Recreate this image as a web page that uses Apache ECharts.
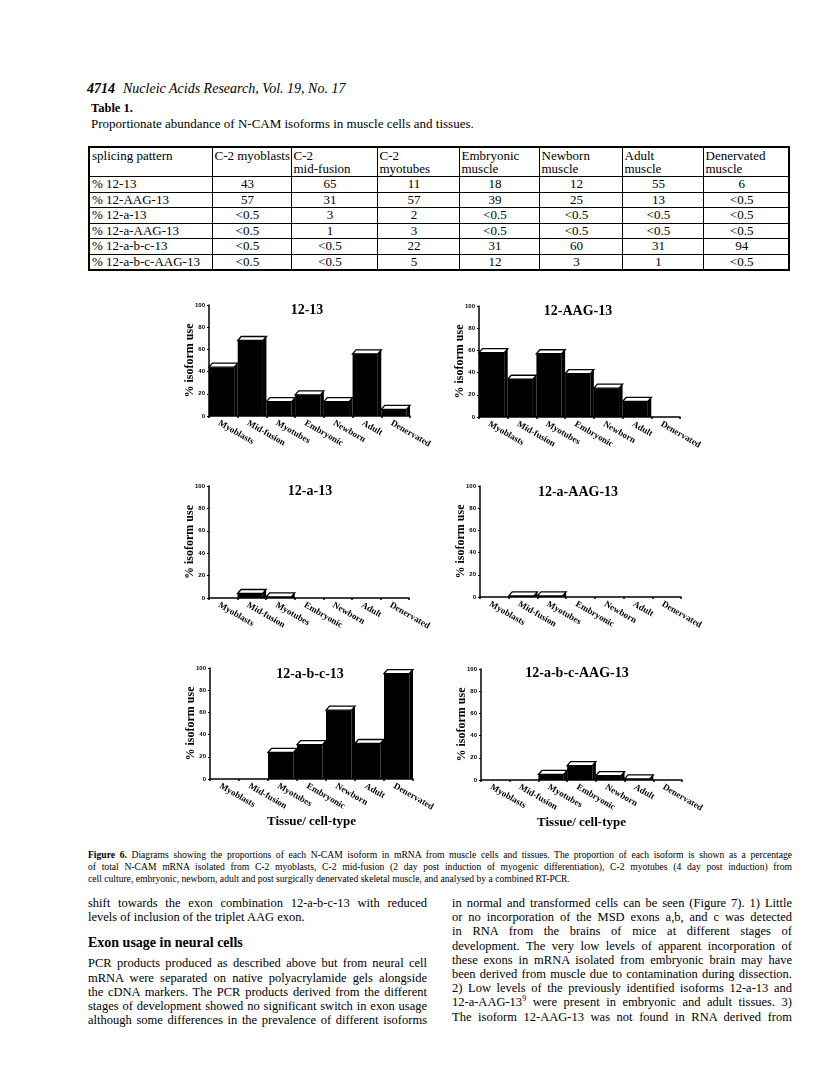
<!DOCTYPE html>
<html>
<head>
<meta charset="utf-8">
<script src="https://cdn.jsdelivr.net/npm/echarts@6/dist/echarts.min.js"></script>
<style>
  html, body { margin: 0; padding: 0; background: #fff; }
  body { width: 816px; height: 1090px; position: relative; overflow: hidden; color: #000; font-family: "Liberation Serif", "DejaVu Serif", serif; }
  .abs { position: absolute; white-space: nowrap; }
  #runhead { left: 87px; top: 81px; font-size: 14px; font-style: italic; }
  #runhead b { font-weight: bold; margin-right: 8px; }
  #tlabel { left: 91px; top: 101px; font-size: 12.5px; font-weight: bold; }
  #tcap { left: 91px; top: 116px; font-size: 13px; }
  #tbl { position: absolute; left: 88px; top: 146px; width: 700px; border-collapse: collapse; font-size: 13px; line-height: 13px; border: 2px solid #000; table-layout: fixed; }
  #tbl td { border: 1.5px solid #000; padding: 0 2px; vertical-align: top; white-space: nowrap; }
  #tbl tr.hd td { height: 27px; padding-top: 1px; }
  #tbl tr.dr td { height: 14.5px; line-height: 14.5px; text-align: center; padding-right: 10px; }
  #tbl tr.dr td:first-child { text-align: left; padding-right: 2px; }
  #chart { position: absolute; left: 0; top: 280px; width: 816px; height: 560px; }
  .cap { position: absolute; left: 88px; width: 704px; font-size: 9.6px; text-align: justify; text-align-last: justify; white-space: nowrap; }
  .cap.last { text-align-last: left; }
  .col { position: absolute; font-size: 12.5px; line-height: 14.2px; }
  .col div { text-align: justify; text-align-last: justify; white-space: nowrap; height: 14.2px; }
  .col div.end { text-align-last: left; }
  .col div.h { font-weight: bold; font-size: 14px; text-align-last: left; height: 18px; margin-top: 12px; margin-bottom: 2px;}
</style>
</head>
<body>
<div id="runhead" class="abs"><b>4714</b>Nucleic Acids Research, Vol. 19, No. 17</div>
<div id="tlabel" class="abs">Table 1.</div>
<div id="tcap" class="abs">Proportionate abundance of N-CAM isoforms in muscle cells and tissues.</div>
<table id="tbl"></table>
<div id="chart"></div>

<div class="cap" style="top:849px;"><b>Figure 6.</b> Diagrams showing the proportions of each N-CAM isoform in mRNA from muscle cells and tissues. The proportion of each isoform is shown as a percentage</div>
<div class="cap" style="top:861px;">of total N-CAM mRNA isolated from C-2 myoblasts, C-2 mid-fusion (2 day post induction of myogenic differentiation), C-2 myotubes (4 day post induction) from</div>
<div class="cap last" style="top:873px;">cell culture, embryonic, newborn, adult and post surgically denervated skeletal muscle, and analysed by a combined RT-PCR.</div>

<div class="col" style="left:88px; top:896px; width:339px;">
  <div>shift towards the exon combination 12-a-b-c-13 with reduced</div>
  <div class="end">levels of inclusion of the triplet AAG exon.</div>
  <div class="h">Exon usage in neural cells</div>
  <div>PCR products produced as described above but from neural cell</div>
  <div>mRNA were separated on native polyacrylamide gels alongside</div>
  <div>the cDNA markers. The PCR products derived from the different</div>
  <div>stages of development showed no significant switch in exon usage</div>
  <div>although some differences in the prevalence of different isoforms</div>
</div>
<div class="col" style="left:452px; top:896px; width:340px;">
  <div>in normal and transformed cells can be seen (Figure 7). 1) Little</div>
  <div>or no incorporation of the MSD exons a,b, and c was detected</div>
  <div>in RNA from the brains of mice at different stages of</div>
  <div>development. The very low levels of apparent incorporation of</div>
  <div>these exons in mRNA isolated from embryonic brain may have</div>
  <div>been derived from muscle due to contamination during dissection.</div>
  <div>2) Low levels of the previously identified isoforms 12-a-13 and</div>
  <div>12-a-AAG-13<sup style="font-size:8px;line-height:0;">9</sup> were present in embryonic and adult tissues. 3)</div>
  <div>The isoform 12-AAG-13 was not found in RNA derived from</div>
</div>

<script>
// ---------- Table data ----------
const tableHeaders = ['splicing pattern', 'C-2 myoblasts', 'C-2<br>mid-fusion', 'C-2<br>myotubes', 'Embryonic<br>muscle', 'Newborn<br>muscle', 'Adult<br>muscle', 'Denervated<br>muscle'];
const tableColWidths = [123, 79, 86, 82, 80, 83, 81, 86];
const rowLabels = ['% 12-13', '% 12-AAG-13', '% 12-a-13', '% 12-a-AAG-13', '% 12-a-b-c-13', '% 12-a-b-c-AAG-13'];
const row_12_13 = ['43', '65', '11', '18', '12', '55', '6'];
const row_12_AAG_13 = ['57', '31', '57', '39', '25', '13', '<0.5'];
const row_12_a_13 = ['<0.5', '3', '2', '<0.5', '<0.5', '<0.5', '<0.5'];
const row_12_a_AAG_13 = ['<0.5', '1', '3', '<0.5', '<0.5', '<0.5', '<0.5'];
const row_12_abc_13 = ['<0.5', '<0.5', '22', '31', '60', '31', '94'];
const row_12_abc_AAG_13 = ['<0.5', '<0.5', '5', '12', '3', '1', '<0.5'];

// ---------- Chart data ----------
const categories = ['Myoblasts', 'Mid-fusion', 'Myotubes', 'Embryonic', 'Newborn', 'Adult', 'Denervated'];
const chartTitles = ['12-13', '12-AAG-13', '12-a-13', '12-a-AAG-13', '12-a-b-c-13', '12-a-b-c-AAG-13'];
const yTickValues = [0, 20, 40, 60, 80, 100];
const use_12_13 = [44, 68, 13, 19, 13, 56, 6];
const use_12_AAG_13 = [58, 34, 57, 39, 26, 14, null];
const use_12_a_13 = [null, 4, 1, null, null, null, null];
const use_12_a_AAG_13 = [null, 1, 1, null, null, null, null];
const use_12_abc_13 = [null, null, 24, 31, 62, 32, 95];
const use_12_abc_AAG_13 = [null, null, 5, 13, 4, 1, null];
const yAxisName = '% isoform use';
const xAxisName = 'Tissue/ cell-type';

// build table
(function () {
  const t = document.getElementById('tbl');
  let html = '<colgroup>' + tableColWidths.map(w => '<col style="width:' + w + 'px">').join('') + '</colgroup>';
  html += '<tr class="hd">' + tableHeaders.map(h => '<td>' + h + '</td>').join('') + '</tr>';
  const rows = [row_12_13, row_12_AAG_13, row_12_a_13, row_12_a_AAG_13, row_12_abc_13, row_12_abc_AAG_13];
  rows.forEach((r, i) => {
    html += '<tr class="dr"><td>' + rowLabels[i] + '</td>' + r.map(v => '<td>' + v.replace('<', '&lt;') + '</td>').join('') + '</tr>';
  });
  t.innerHTML = html;
})();

const seriesValues = [use_12_13, use_12_AAG_13, use_12_a_13, use_12_a_AAG_13, use_12_abc_13, use_12_abc_AAG_13];
const grids = [
  { left: 209, top: 25, width: 201, height: 111 },
  { left: 479, top: 26, width: 201, height: 111 },
  { left: 209, top: 206, width: 200, height: 112 },
  { left: 480, top: 206, width: 201, height: 111 },
  { left: 210, top: 388, width: 203, height: 111 },
  { left: 481, top: 389, width: 201, height: 111 }
];
const titlePos = [[307, 30], [578, 31], [310, 211], [578, 212], [310, 394], [577, 393]];

function renderBar(params, api) {
  const idx = api.value(0);
  const v = api.value(1);
  const base = api.coord([idx, 0]);
  const top = api.coord([idx, v]);
  const w = api.size([1, 0])[0];
  const dx = 3.5, dy = 4;
  const x0 = base[0] - w / 2;
  const fw = w - dx;
  return {
    type: 'group',
    children: [
      { type: 'rect', shape: { x: x0, y: top[1], width: fw, height: Math.max(base[1] - top[1], 0.6) }, style: { fill: '#000' } },
      { type: 'polygon', shape: { points: [[x0 + fw, top[1]], [x0 + w, top[1] - dy], [x0 + w, base[1]], [x0 + fw, base[1]]] }, style: { fill: '#000' } },
      { type: 'polygon', shape: { points: [[x0, top[1]], [x0 + dx, top[1] - dy], [x0 + w, top[1] - dy], [x0 + fw, top[1]]] }, style: { fill: '#fff', stroke: '#000', lineWidth: 1.3 } }
    ]
  };
}

const chart = echarts.init(document.getElementById('chart'), null, { renderer: 'canvas' });
const option = {
  animation: false,
  backgroundColor: 'transparent',
  grid: grids.map(g => Object.assign({ containLabel: false }, g)),
  xAxis: grids.map((g, i) => ({
    type: 'category',
    gridIndex: i,
    data: categories,
    name: i >= 4 ? xAxisName : '',
    nameLocation: 'middle',
    nameGap: 36,
    nameTextStyle: { fontFamily: 'Liberation Serif', fontWeight: 'bold', fontSize: 13, color: '#000' },
    axisLine: { show: true, lineStyle: { color: '#000', width: 1.5 } },
    axisTick: { show: true, length: 2, lineStyle: { color: '#000', width: 1.5 } },
    axisLabel: { interval: 0, rotate: -30, margin: 9, padding: [0, 0, 0, -5], fontFamily: 'Liberation Serif', fontWeight: 'bold', fontSize: 9, color: '#000' },
    splitLine: { show: false }
  })),
  yAxis: grids.map((g, i) => ({
    type: 'value',
    gridIndex: i,
    min: yTickValues[0],
    max: yTickValues[yTickValues.length - 1],
    interval: 20,
    name: yAxisName,
    nameLocation: 'middle',
    nameGap: 13,
    nameMoveOverlap: false,
    nameTextStyle: { fontFamily: 'Liberation Serif', fontWeight: 'bold', fontSize: 12, color: '#000' },
    axisLine: { show: true, lineStyle: { color: '#000', width: 1.5 } },
    axisTick: { show: true, length: 2, lineStyle: { color: '#000', width: 1 } },
    axisLabel: { margin: 4, fontFamily: 'Liberation Sans', fontWeight: 'bold', fontSize: 6, color: '#000' },
    splitLine: { show: false }
  })),
  graphic: chartTitles.map((t, i) => ({
    type: 'text',
    x: titlePos[i][0],
    y: titlePos[i][1],
    style: { text: t, font: 'bold 14px "Liberation Serif"', fill: '#000', textAlign: 'center', textVerticalAlign: 'middle' }
  })),
  series: seriesValues.map((vals, i) => ({
    type: 'custom',
    xAxisIndex: i,
    yAxisIndex: i,
    renderItem: renderBar,
    encode: { x: 0, y: 1 },
    data: vals.map((v, k) => [k, v]).filter(d => d[1] !== null)
  }))
};
chart.setOption(option);
</script>
</body>
</html>
